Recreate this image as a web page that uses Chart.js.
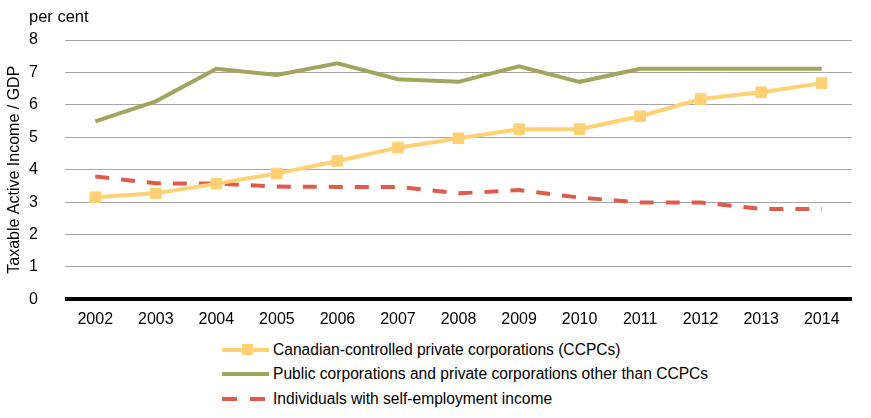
<!DOCTYPE html>
<html>
<head>
<meta charset="utf-8">
<script src="https://cdn.jsdelivr.net/npm/chart.js@4/dist/chart.umd.min.js"></script>
<style>
  html, body { margin:0; padding:0; background:#fff; }
  body { width:871px; height:418px; position:relative; overflow:hidden; font-family:"Liberation Sans", Arial, sans-serif; }
  #wrap { position:absolute; left:0; top:0; width:871px; height:336px; }
  #unit { position:absolute; left:29px; top:7px; font-size:16.5px; color:#000; }
  .leg { position:absolute; left:222px; height:20px; font-size:15.6px; color:#000; display:flex; align-items:center; }
  .sw { position:relative; width:47px; height:20px; margin-right:4px; }
  .ln { position:absolute; left:0; width:47px; top:8px; height:4px; }
  .mk { position:absolute; left:20px; top:4px; width:11px; height:11px; }
</style>
</head>
<body>
<div id="wrap"><canvas id="c"></canvas></div>
<div id="unit">per cent</div>
<div id="legend"></div>
<script>
const years = ["2002","2003","2004","2005","2006","2007","2008","2009","2010","2011","2012","2013","2014"];
const ccpc = [3.15, 3.27, 3.57, 3.88, 4.27, 4.68, 4.97, 5.25, 5.25, 5.65, 6.18, 6.39, 6.67];
const publicCorp = [5.49, 6.11, 7.11, 6.92, 7.28, 6.79, 6.71, 7.19, 6.71, 7.11, 7.11, 7.11, 7.11];
const individuals = [3.79, 3.58, 3.57, 3.48, 3.47, 3.47, 3.27, 3.37, 3.14, 2.99, 2.99, 2.79, 2.79];
const seriesNames = [
  "Canadian-controlled private corporations (CCPCs)",
  "Public corporations and private corporations other than CCPCs",
  "Individuals with self-employment income"
];
const colors = ["#FFD174", "#A0A55F", "#DF5B4B"];
const yTitle = "Taxable Active Income / GDP";

const font = { family: '"Liberation Sans", Arial, sans-serif', size: 16 };

new Chart(document.getElementById('c'), {
  type: 'line',
  data: {
    labels: years,
    datasets: [
      { label: seriesNames[1], data: publicCorp, borderColor: colors[1], backgroundColor: colors[1],
        borderWidth: 4, pointRadius: 0, tension: 0, order: 3 },
      { label: seriesNames[2], data: individuals, borderColor: colors[2], backgroundColor: colors[2],
        borderWidth: 4, borderDash: [14, 12], pointRadius: 0, tension: 0, order: 2 },
      { label: seriesNames[0], data: ccpc, borderColor: colors[0], backgroundColor: colors[0],
        borderWidth: 4, pointStyle: 'rect', pointRadius: 7.5, pointBorderWidth: 1,
        pointBorderColor: colors[0], pointBackgroundColor: colors[0], tension: 0, order: 1 }
    ]
  },
  options: {
    responsive: true,
    maintainAspectRatio: false,
    animation: false,
    layout: { padding: { top: 40, right: 19, left: 0, bottom: 0 } },
    plugins: { legend: { display: false }, tooltip: { enabled: false } },
    scales: {
      x: {
        offset: true,
        grid: { display: false },
        border: { display: false },
        ticks: { color: '#000', font: font, padding: 3, maxRotation: 0 }
      },
      y: {
        min: 0, max: 8,
        ticks: { stepSize: 1, color: '#000', font: font, padding: 27 },
        grid: {
          color: (ctx) => ctx.tick && ctx.tick.value === 0 ? '#000' : '#A6A6A6',
          lineWidth: (ctx) => ctx.tick && ctx.tick.value === 0 ? 4 : 1,
          drawTicks: false
        },
        border: { display: false },
        title: { display: true, text: yTitle, color: '#000', font: font, padding: { top: 5, bottom: 0 } },
        afterFit: (s) => { s.width = 65; }
      }
    }
  }
});

// HTML legend
const legend = document.getElementById('legend');
const tops = [340, 364, 389];
seriesNames.forEach((name, i) => {
  const row = document.createElement('div');
  row.className = 'leg';
  row.style.top = tops[i] + 'px';
  const sw = document.createElement('div');
  sw.className = 'sw';
  const ln = document.createElement('div');
  ln.className = 'ln';
  if (i === 2) {
    ln.style.background = `repeating-linear-gradient(to right, ${colors[i]} 0 15px, transparent 15px 28px)`;
  } else {
    ln.style.background = colors[i];
  }
  sw.appendChild(ln);
  if (i === 0) {
    const mk = document.createElement('div');
    mk.className = 'mk';
    mk.style.background = colors[i];
    sw.appendChild(mk);
  }
  row.appendChild(sw);
  const t = document.createElement('span');
  t.textContent = name;
  row.appendChild(t);
  legend.appendChild(row);
});
</script>
</body>
</html>
